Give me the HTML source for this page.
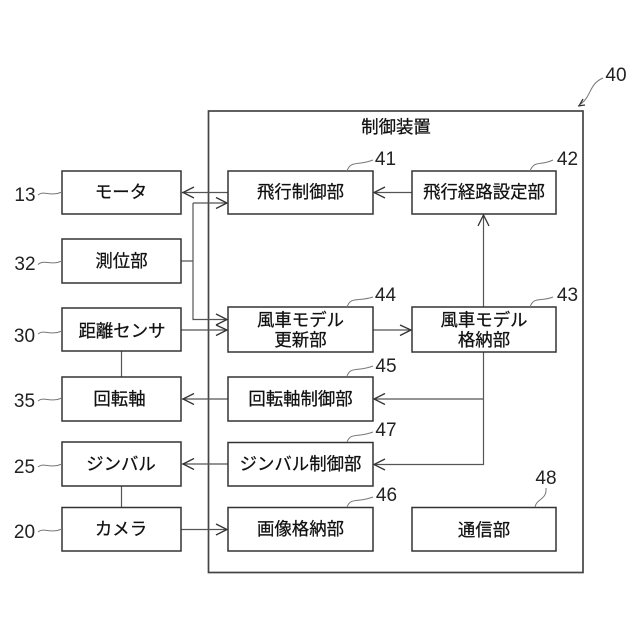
<!DOCTYPE html>
<html><head><meta charset="utf-8"><style>
html,body{margin:0;padding:0;background:#fff}
svg{display:block;filter:blur(0.35px)}
text{font-family:"Liberation Sans","Noto Sans CJK JP",sans-serif;fill:#111}
.t{font-size:17.4px;text-anchor:middle;stroke:#111;stroke-width:.25px}
.n{font-size:19px;text-anchor:middle;fill:#222}
.b{fill:#fff;stroke:#333;stroke-width:1.5}
.l{fill:none;stroke:#555;stroke-width:1.2}
.a{fill:none;stroke:#333;stroke-width:1.3}
.c{fill:none;stroke:#777;stroke-width:1}
</style></head><body>
<svg width="640" height="640" viewBox="0 0 640 640" xmlns="http://www.w3.org/2000/svg">
<rect width="640" height="640" fill="#fff"/>
<rect x="208.500" y="111" width="374.500" height="461.500" fill="none" stroke="#444" stroke-width="1.700"/>

<!-- connectors -->
<path class="l" d="M228 192.500H182"/>
<path class="l" d="M181 261H193M193 203H227M193 203V319.500H227"/>
<path class="l" d="M181 330H227"/>
<path class="l" d="M373 330H411"/>
<path class="l" d="M412 192.500H374"/>
<path class="l" d="M483.500 307V216" stroke-width="1.400"/>
<path class="l" d="M483.500 352V464.500H374M483.500 399H374"/>
<path class="l" d="M228 399H182M228 464H182M181 529.500H227"/>
<path class="l" d="M121.500 351V377M121.500 486V507"/>

<!-- arrowheads -->
<path class="a" d="M194 187L183 192.500L194 198"/>
<path class="a" d="M216 197.500L227 203L216 208.500"/>
<path class="a" d="M216 314L227 319.500L216 325"/>
<path class="a" d="M216 325L227 330L216 335.500"/>
<path class="a" d="M400 325L411 330L400 335.500"/>
<path class="a" d="M385 187L374 192.500L385 198"/>
<path class="a" d="M478 226L483.500 215L489 226"/>
<path class="a" d="M194 393.500L183 399L194 404.500"/>
<path class="a" d="M194 458.500L183 464L194 469.500"/>
<path class="a" d="M385 393.500L374 399L385 404.500"/>
<path class="a" d="M385 459L374 464.500L385 470"/>
<path class="a" d="M216 524L227 529.500L216 535"/>

<!-- boxes -->
<rect class="b" x="62" y="171" width="119" height="43"/>
<rect class="b" x="62" y="239" width="119" height="44"/>
<rect class="b" x="62" y="308" width="119" height="43"/>
<rect class="b" x="62" y="377" width="119" height="44"/>
<rect class="b" x="62" y="442" width="119" height="44"/>
<rect class="b" x="62" y="507.500" width="119" height="43.500"/>
<rect class="b" x="228" y="171" width="145" height="43"/>
<rect class="b" x="228" y="307" width="145" height="45"/>
<rect class="b" x="228" y="377" width="145" height="44"/>
<rect class="b" x="228" y="442.500" width="145" height="43.500"/>
<rect class="b" x="228" y="507.500" width="145" height="43.500"/>
<rect class="b" x="412" y="171" width="144" height="43"/>
<rect class="b" x="412" y="307" width="144" height="45"/>
<rect class="b" x="412" y="507.500" width="144" height="43.500"/>

<!-- box labels -->
<text class="t" x="121" y="198">モータ</text>
<text class="t" x="121.500" y="267">測位部</text>
<text class="t" x="122" y="337">距離センサ</text>
<text class="t" x="119.500" y="405">回転軸</text>
<text class="t" x="121" y="470">ジンバル</text>
<text class="t" x="121" y="535">カメラ</text>
<text class="t" x="396" y="133">制御装置</text>
<text class="t" x="300.500" y="198">飛行制御部</text>
<text class="t" x="484" y="198">飛行経路設定部</text>
<text class="t" x="300.500" y="326">風車モデル</text>
<text class="t" x="300.500" y="346">更新部</text>
<text class="t" x="484" y="326">風車モデル</text>
<text class="t" x="484" y="346">格納部</text>
<text class="t" x="300.500" y="405">回転軸制御部</text>
<text class="t" x="300.500" y="470">ジンバル制御部</text>
<text class="t" x="300.500" y="535">画像格納部</text>
<text class="t" x="484" y="536">通信部</text>

<!-- leader lines -->
<path class="c" d="M38 195C44 190 50 197 62 192"/>
<path class="c" d="M38 264.500C44 259 50 266 62 261"/>
<path class="c" d="M38 334C44 329 50 336 62 331"/>
<path class="c" d="M38 401C44 396 50 403 62 398"/>
<path class="c" d="M38 467C44 462 50 469 62 464"/>
<path class="c" d="M38 532C44 527 50 534 62 529"/>
<path class="c" d="M347 171C351 160 358 166 373 160"/>
<path class="c" d="M347 307C351 296 358 302 373 297"/>
<path class="c" d="M347 376C351 366 358 372 373 366"/>
<path class="c" d="M347 442C351 432 358 438 373 432"/>
<path class="c" d="M347 507C351 497 358 503 373 497"/>
<path class="c" d="M530 171C534 160 541 166 553 160"/>
<path class="c" d="M530 307C534 296 541 302 553 297"/>
<path class="c" d="M535 507C537 498 547 500 546 488"/>
<path class="c" d="M581 104C592 95 589 84 603 78"/>
<path class="a" d="M578 106L585 105M579 106L583 99"/>

<!-- reference numbers -->
<text class="n" x="25" y="201">13</text>
<text class="n" x="25" y="270">32</text>
<text class="n" x="24.500" y="342">30</text>
<text class="n" x="24.500" y="407">35</text>
<text class="n" x="24.500" y="473">25</text>
<text class="n" x="24.500" y="538">20</text>
<text class="n" x="385.500" y="165">41</text>
<text class="n" x="385.500" y="301">44</text>
<text class="n" x="386" y="372">45</text>
<text class="n" x="386" y="436">47</text>
<text class="n" x="386.500" y="501">46</text>
<text class="n" x="567.500" y="165">42</text>
<text class="n" x="567.500" y="301">43</text>
<text class="n" x="546" y="484">48</text>
<text class="n" x="616" y="81">40</text>
</svg>
</body></html>
